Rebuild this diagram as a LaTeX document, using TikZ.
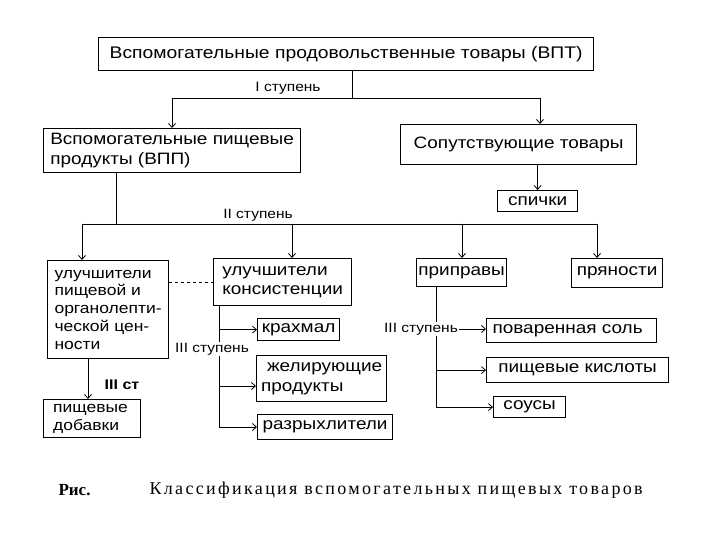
\documentclass[tikz,border=0pt]{standalone}
\usepackage{fontspec}
\setmainfont{Liberation Sans}[FakeStretch=1.15]
\newfontfamily\captfont{Liberation Serif}[LetterSpace=13]
\newfontfamily\risfont{Liberation Serif}
\usetikzlibrary{arrows.meta,calc,positioning}

\tikzset{
    blok/.style={draw, line width=1.2pt, anchor=north west, inner sep=0pt,
        align=left, font=\fontsize{16.5}{19.5}\selectfont},
    small/.style={font=\fontsize{15.2}{17.8}\selectfont},
    arr/.style={-{Straight Barb[length=4pt,width=7pt]}, line width=0.8pt},
    lin/.style={line width=0.8pt},
    stup/.style={font=\fontsize{13.5}{15}\selectfont, fill=white, inner sep=1pt}
}

\begin{document}
\begin{tikzpicture}[x=1pt,y=-1pt]
    \useasboundingbox (0,0) rectangle (720,540);

    % I level
    \node[blok, font=\fontsize{16.8}{19.5}\selectfont, minimum width=495pt, minimum height=33pt] (vpt) at (98,37)
        {Вспомогательные продовольственные товары (ВПТ)};
    \node[blok, minimum width=257pt, minimum height=44pt] (vpp) at (43,128)
        {Вспомогательные пищевые\\продукты (ВПП)};
    \node[blok, minimum width=236pt, minimum height=40pt] (sop) at (400,124)
        {Сопутствующие товары};
    \node[blok, minimum width=80pt, minimum height=21pt] (spich) at (497,190) {спички};

    \coordinate (s1) at (352,98);
    \coordinate (s1L) at (172,98);
    \coordinate (s1R) at (540,98);
    \draw[lin] (s1 |- vpt.south) -- (s1);
    \draw[lin] (s1L) -- (s1R);
    \node[stup] (st1) at (288,88) {I ступень};
    \draw[arr] (s1L) -- (s1L |- vpp.north);
    \draw[arr] (s1R) -- (s1R |- sop.north);
    \draw[arr] (spich.north |- sop.south) -- (spich.north);

    % II level
    \node[blok, small, minimum width=121pt, minimum height=98pt] (ul1) at (47,260)
        {улучшители\\пищевой и\\органолепти-\\ческой цен-\\ности};
    \node[blok, minimum width=138pt, minimum height=47pt] (ul2) at (213,258)
        {улучшители\\консистенции};
    \node[blok, minimum width=90pt, minimum height=28pt] (pripr) at (416,258) {приправы};
    \node[blok, minimum width=91pt, minimum height=29pt] (pryan) at (571,258) {пряности};

    \coordinate (s2) at (116,224);
    \draw[lin] (s2 |- vpp.south) -- (s2);
    \draw[lin] (82,224) -- (597,224);
    \node[stup] (st2) at (258,215) {II ступень};
    \foreach \x/\n in {82/ul1, 292/ul2, 462/pripr, 597/pryan}
        \draw[arr] (\x,224) -- (\x,224 |- \n.north);
    \draw[lin, dashed] (ul2.west -| ul1.east) -- (ul2.west);

    % III level
    \node[blok, small, minimum width=97pt, minimum height=38pt] (dobav) at (43,399)
        {пищевые\\добавки\hspace*{12pt}};
    \draw[arr] (88,0 |- ul1.south) -- (88,0 |- dobav.north);
    \node[font=\fontsize{14}{16}\selectfont\bfseries] (st3a) at (122,385) {III ст};

    \node[blok, minimum width=82pt, minimum height=22pt] (krah) at (257,318) {крахмал};
    \node[blok, minimum width=130pt, minimum height=46pt] (zhel) at (256,355)
        {\hspace*{6pt}желирующие\\продукты};
    \node[blok, minimum width=135pt, minimum height=25pt] (razr) at (257,414) {разрыхлители};

    \coordinate (t2) at (219,427);
    \draw[lin] (t2 |- ul2.south) -- (t2);
    \draw[arr] (t2 |- krah.west) -- (krah.west);
    \draw[arr] (t2 |- 0,386) -- (zhel.west |- 0,386);
    \draw[arr] (t2) -- (razr.west |- t2);
    \node[stup] (st3b) at (212,349) {III ступень};

    \node[blok, minimum width=170pt, minimum height=24pt] (sol) at (486,318) {поваренная соль\hspace*{8pt}};
    \node[blok, minimum width=182pt, minimum height=25pt] (kisl) at (486,357) {пищевые кислоты};
    \node[blok, minimum width=72pt, minimum height=21pt] (sous) at (493,396) {соусы};

    \coordinate (t3) at (436,0);
    \draw[lin] (t3 |- pripr.south) -- (t3 |- sous.west);
    \node[stup] (st3c) at (421,329) {III ступень};
    \draw[arr] (st3c.east) -- (sol.west |- st3c.east);
    \draw[arr] (t3 |- kisl.west) -- (kisl.west);
    \draw[arr] (t3 |- sous.west) -- (sous.west);

    % Caption
    \node[anchor=west, font=\risfont\bfseries\fontsize{17}{19}\selectfont] (ris) at (55,490) {Рис.};
    \node[anchor=west, font=\captfont\fontsize{18}{20}\selectfont] (capt) at (146,490)
        {Классификация вспомогательных пищевых товаров};
\end{tikzpicture}
\end{document}
